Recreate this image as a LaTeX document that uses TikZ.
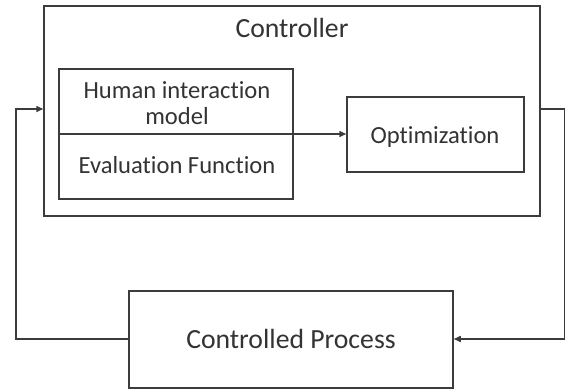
\documentclass[tikz,border=0pt]{standalone}
\usepackage{fontspec}
\setmainfont{Carlito}[Ligatures={NoCommon}]
\usetikzlibrary{arrows.meta}
\definecolor{linec}{HTML}{3C3C3C}
\definecolor{textc}{HTML}{333333}
\tikzset{
  boxstyle/.style={draw=linec, line width=1.5pt, rectangle, inner sep=0pt, fill=none},
  txtsmall/.style={text=textc, inner sep=0pt, anchor=base, font=\fontsize{24.6}{26}\selectfont},
  txtbig/.style={text=textc, inner sep=0pt, anchor=base, font=\fontsize{27.7}{30}\selectfont},
  conn/.style={draw=linec, line width=1.5pt},
  arr/.style={conn, -{Triangle[length=7pt,width=6pt]}}
}
\begin{document}
\begin{tikzpicture}[x=1pt,y=-1pt]
\useasboundingbox (0,0) rectangle (566,389);
\fill[white] (0,0) rectangle (566,389);
% boxes
\node[boxstyle, minimum width=496pt, minimum height=210pt] (ctrl) at (292,111) {};
\node[boxstyle, minimum width=234pt, minimum height=130pt] (inner) at (176,134) {};
\node[boxstyle, minimum width=177pt, minimum height=75pt] (opt) at (435.5,134.5) {};
\node[boxstyle, minimum width=324pt, minimum height=97pt] (proc) at (291,339.5) {};
% texts
\node[txtbig] (tctrl) at (292,37) {Controller};
\node[txtsmall] (thm1) at (177,98.3) {Human interaction};
\node[txtsmall] (thm2) at (177,124.3) {model};
\node[txtsmall] (tev) at (177,173.3) {Evaluation Function};
\node[txtsmall] (topt) at (435,143.3) {Optimization};
\node[txtbig] (tproc) at (291,348) {Controlled Process};
% connectors
\coordinate (lt) at (16,109);
\coordinate (lb) at (16,339);
\coordinate (rt) at (564.5,109);
\coordinate (rb) at (564.5,339);
\draw[arr] (inner.west) -- (inner.west -| opt.west);
\draw[arr] (proc.west |- lb) -- (lb) -- (lt) -- (lt -| ctrl.west);
\draw[arr] (ctrl.east |- rt) -- (rt) -- (rb) -- (rb -| proc.east);
\end{tikzpicture}
\end{document}
